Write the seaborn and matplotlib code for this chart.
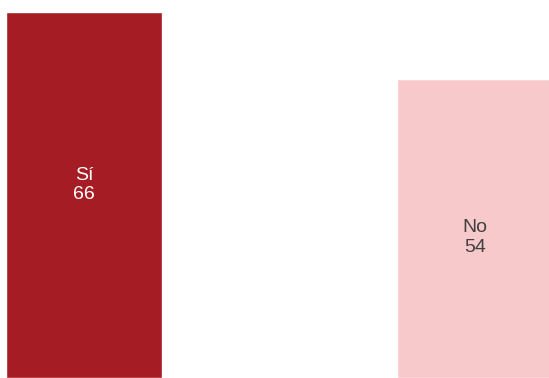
import matplotlib
matplotlib.use("Agg")
import matplotlib.pyplot as plt
import seaborn as sns
import pandas as pd

# data
categories = ["Sí", "No"]
values = [66, 54]
colors = ["#A61C24", "#F8C9CB"]
text_colors = ["#FFFFFF", "#404040"]

df = pd.DataFrame({"cat": categories, "val": values})

sns.set_theme(style="white")
plt.rcParams["font.family"] = ["Liberation Sans", "DejaVu Sans"]

fig = plt.figure(figsize=(5.49, 3.78), dpi=100)
ax = fig.add_axes([0, 0, 1, 1])

sns.barplot(data=df, x="cat", y="val", hue="cat", palette=colors,
            width=0.4, legend=False, ax=ax, saturation=1)

ax.set_xlim(-0.215, 1.19)
ax.set_ylim(0, 68.2)
ax.axis("off")

# labels inside bars
for i, (c, v) in enumerate(zip(categories, values)):
    ax.text(i, v / 2 + (1.8 if i == 0 else -1.6), f"{c}\n{v}", ha="center", va="center",
            fontsize=14, color=text_colors[i], linespacing=1.2)

fig.savefig("out.png", dpi=100)
